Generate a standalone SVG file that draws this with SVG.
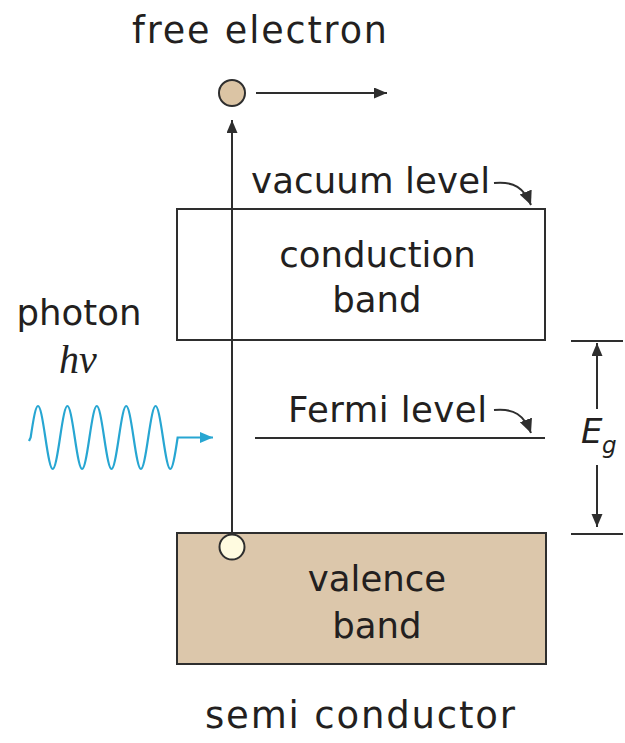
<svg xmlns="http://www.w3.org/2000/svg" width="625" height="743" viewBox="0 0 625 743">
  <style>
    .t { font-family: "DejaVu Sans", "Liberation Sans", sans-serif; font-size: 35.5px; fill: #231f20; }
    .box { fill: none; stroke: #2e2e2e; stroke-width: 2; }
    .ln { stroke: #2e2e2e; stroke-width: 2; fill: none; }
  </style>
  <defs>
    <marker id="ah" markerUnits="userSpaceOnUse" markerWidth="15" markerHeight="12" refX="13" refY="5.5" orient="auto">
      <path d="M0,0 L13,5.5 L0,11 z" fill="#2e2e2e"/>
    </marker>
    <marker id="ahb" markerUnits="userSpaceOnUse" markerWidth="16" markerHeight="14" refX="14" refY="6.5" orient="auto">
      <path d="M0,0 L14,6.5 L0,13 z" fill="#2e2e2e"/>
    </marker>
    <marker id="ahc" markerUnits="userSpaceOnUse" markerWidth="15" markerHeight="12" refX="13" refY="5.5" orient="auto">
      <path d="M0,0 L13,5.5 L0,11 z" fill="#27a6d2"/>
    </marker>
  </defs>

  <g id="title">
    <text class="t" x="132" y="43" style="font-size:36.5px" textLength="255" lengthAdjust="spacing">free electron</text>
  </g>

  <g id="conduction-band">
    <rect class="box" x="177" y="209" width="368" height="131"/>
    <text class="t" x="377.5" y="267" text-anchor="middle">conduction</text>
    <text class="t" x="377" y="312" text-anchor="middle">band</text>
  </g>

  <g id="valence-band">
    <rect x="177" y="533" width="369" height="131" fill="#dcc7ab" stroke="#2e2e2e" stroke-width="2"/>
    <text class="t" x="377" y="591" text-anchor="middle">valence</text>
    <text class="t" x="377" y="638" text-anchor="middle">band</text>
  </g>

  <g id="vacuum-level">
    <text class="t" x="251" y="193" textLength="239" lengthAdjust="spacing">vacuum level</text>
  </g>

  <g id="fermi-level">
    <text class="t" x="288" y="422" textLength="199" lengthAdjust="spacing">Fermi level</text>
    <line class="ln" x1="255" y1="438" x2="545" y2="438"/>
  </g>

  <g id="photon">
    <text class="t" x="79" y="325" text-anchor="middle">photon</text>
    <text x="59" y="373" font-family="'Liberation Serif', 'DejaVu Serif', serif" font-style="italic" font-size="40" fill="#231f20">hν</text>
  </g>

  <g id="eg">
    <line class="ln" x1="571" y1="341" x2="623" y2="341"/>
    <line class="ln" x1="571" y1="534" x2="623" y2="534"/>
    <text x="581" y="443" font-family="'DejaVu Sans', sans-serif" font-style="italic" font-size="34" fill="#231f20">E</text>
    <text x="602" y="453" font-family="'DejaVu Sans', sans-serif" font-style="italic" font-size="23" fill="#231f20">g</text>
  </g>

  <g id="semiconductor-label">
    <text class="t" x="205" y="728" style="font-size:37px" textLength="310" lengthAdjust="spacing">semi conductor</text>
  </g>

  <g id="connectors">
    <line class="ln" x1="232" y1="547" x2="232" y2="120" marker-end="url(#ah)"/>
    <line class="ln" x1="256" y1="93" x2="387" y2="93" marker-end="url(#ah)"/>
    <path class="ln" d="M494,183 C514,181 524,188 531,205" marker-end="url(#ahb)"/>
    <path class="ln" d="M494,410 C514,408 524,415 531,433" marker-end="url(#ahb)"/>
    <line class="ln" x1="597" y1="409" x2="597" y2="343" marker-end="url(#ah)"/>
    <line class="ln" x1="597" y1="465" x2="597" y2="527" marker-end="url(#ah)"/>
    <path d="M29,441 L30.65,437.5 c6.24,-42 8.46,-42 14.7,0 c6.24,42 8.46,42 14.7,0 c6.24,-42 8.46,-42 14.7,0 c6.24,42 8.46,42 14.7,0 c6.24,-42 8.46,-42 14.7,0 c6.24,42 8.46,42 14.7,0 c6.24,-42 8.46,-42 14.7,0 c6.24,42 8.46,42 14.7,0 c6.24,-42 8.46,-42 14.7,0 c6.24,42 8.46,42 14.7,0 L213,437.5" fill="none" stroke="#27a6d2" stroke-width="2.2" marker-end="url(#ahc)"/>
  </g>

  <g id="free-electron">
    <circle cx="232" cy="93" r="13" fill="#dbc4a4" stroke="#2e2e2e" stroke-width="2"/>
  </g>
  <g id="hole">
    <circle cx="232" cy="547" r="12.5" fill="#fffbe0" stroke="#2e2e2e" stroke-width="2"/>
  </g>
</svg>
